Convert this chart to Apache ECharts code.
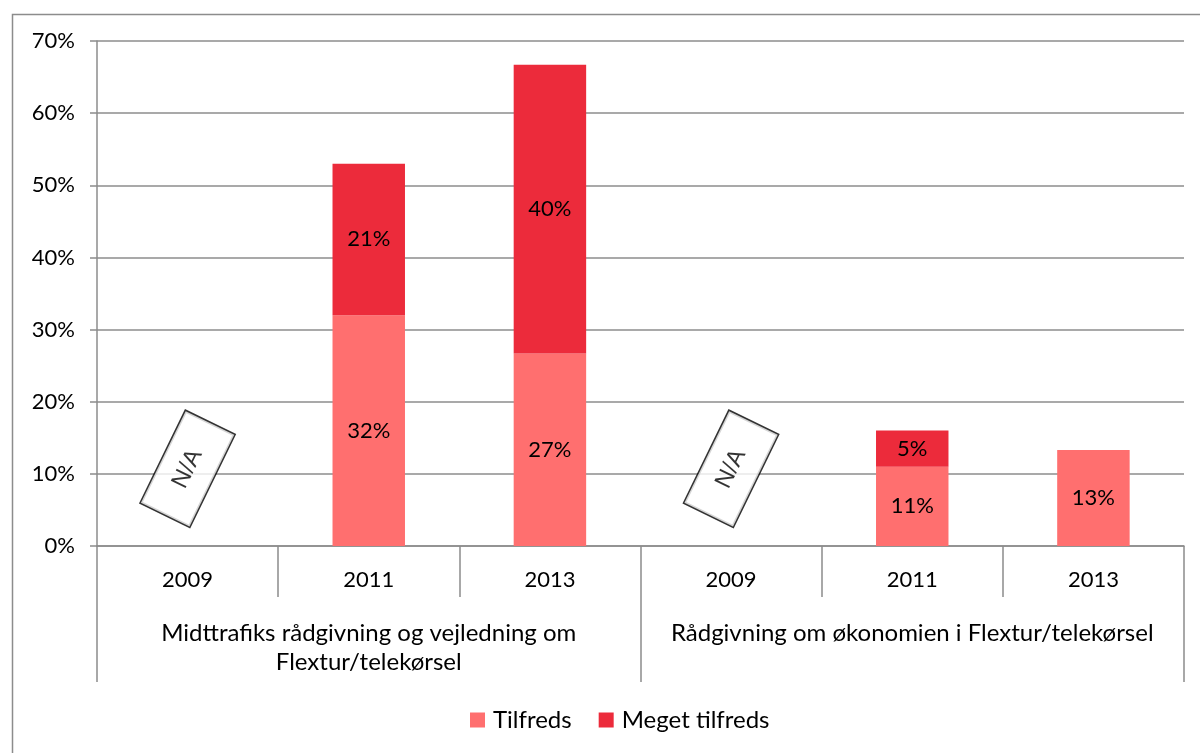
<!DOCTYPE html>
<html>
<head>
<meta charset="utf-8">
<script src="https://cdn.jsdelivr.net/npm/echarts@6/dist/echarts.min.js"></script>
<style>html,body{margin:0;padding:0;background:#fff;}#c{width:1200px;height:753px;}</style>
</head>
<body>
<div id="c"></div>
<script>
var years = ['2009', '2011', '2013', '2009', '2011', '2013'];
var groups = ['Midttrafiks rådgivning og vejledning om\nFlextur/telekørsel', 'Rådgivning om økonomien i Flextur/telekørsel'];
var tilfreds = [null, 32, 26.7, null, 11, 13.3];
var megetTilfreds = [null, 21, 40, null, 5, null];
var naMarks = [10.7, null, null, 10.7, null, null];
var yTicks = [0, 10, 20, 30, 40, 50, 60, 70];

var FONT = 'Lato';
var NUM = 22, TXT = 24;
var chart = echarts.init(document.getElementById('c'));
var barLabel = {
  show: true, position: 'inside', color: '#000', fontFamily: FONT, fontSize: NUM,
  formatter: function (p) { return p.value == null ? '' : Math.round(p.value) + '%'; }
};
chart.setOption({
  animation: false,
  graphic: [{
    type: 'rect', left: 10, top: 12, silent: true,
    shape: { width: 1200, height: 800 },
    style: { fill: 'none', stroke: '#8c8c8c', lineWidth: 1.5 }
  }],
  grid: { left: 97, right: 16, top: 41, bottom: 207, containLabel: false },
  legend: {
    top: 703, left: 465, itemWidth: 15, itemHeight: 15, itemGap: 27,
    icon: 'rect',
    textStyle: { fontFamily: FONT, fontSize: TXT, color: '#000', padding: [0, 0, 0, 3] },
    data: ['Tilfreds', 'Meget tilfreds']
  },
  xAxis: [{
    type: 'category', data: years, position: 'bottom',
    axisLine: { lineStyle: { color: '#8c8c8c', width: 1.5 } },
    axisTick: { show: true, interval: 0, length: 51, lineStyle: { color: '#8c8c8c', width: 1.5 } },
    axisLabel: { interval: 0, margin: 23, color: '#000', fontFamily: FONT, fontSize: NUM }
  }, {
    type: 'category', data: groups, position: 'bottom', offset: 51,
    axisLine: { show: false },
    axisTick: { show: true, interval: 0, length: 85, lineStyle: { color: '#8c8c8c', width: 1.5 } },
    axisLabel: { interval: 0, margin: 22, color: '#000', fontFamily: FONT, fontSize: TXT, lineHeight: 29, verticalAlign: 'top' }
  }],
  yAxis: {
    type: 'value', min: yTicks[0], max: yTicks[yTicks.length - 1], interval: 10,
    axisLine: { show: true, lineStyle: { color: '#8c8c8c', width: 1.5 } },
    axisTick: { show: true, length: 7, lineStyle: { color: '#8c8c8c', width: 1.5 } },
    splitLine: { lineStyle: { color: '#8c8c8c', width: 1.5 } },
    axisLabel: { margin: 22, color: '#000', fontFamily: FONT, fontSize: NUM, formatter: '{value}%' }
  },
  series: [{
    name: 'Tilfreds', type: 'bar', stack: 's', barWidth: '40%', xAxisIndex: 0,
    data: tilfreds, itemStyle: { color: '#FF6F6F' }, label: barLabel
  }, {
    name: 'Meget tilfreds', type: 'bar', stack: 's', barWidth: '40%', xAxisIndex: 0,
    data: megetTilfreds, itemStyle: { color: '#EC2B3B' }, label: barLabel
  }, {
    name: 'NA', type: 'scatter', xAxisIndex: 0, data: naMarks, symbolSize: 0,
    silent: true, z: 10,
    label: {
      show: true, position: 'inside', rotate: 64, formatter: 'N/A',
      fontFamily: 'Liberation Sans', fontSize: 24, color: '#000',
      backgroundColor: '#fff', borderColor: '#000', borderWidth: 1.5,
      padding: [15, 31]
    }
  }]
});
</script>
</body>
</html>
